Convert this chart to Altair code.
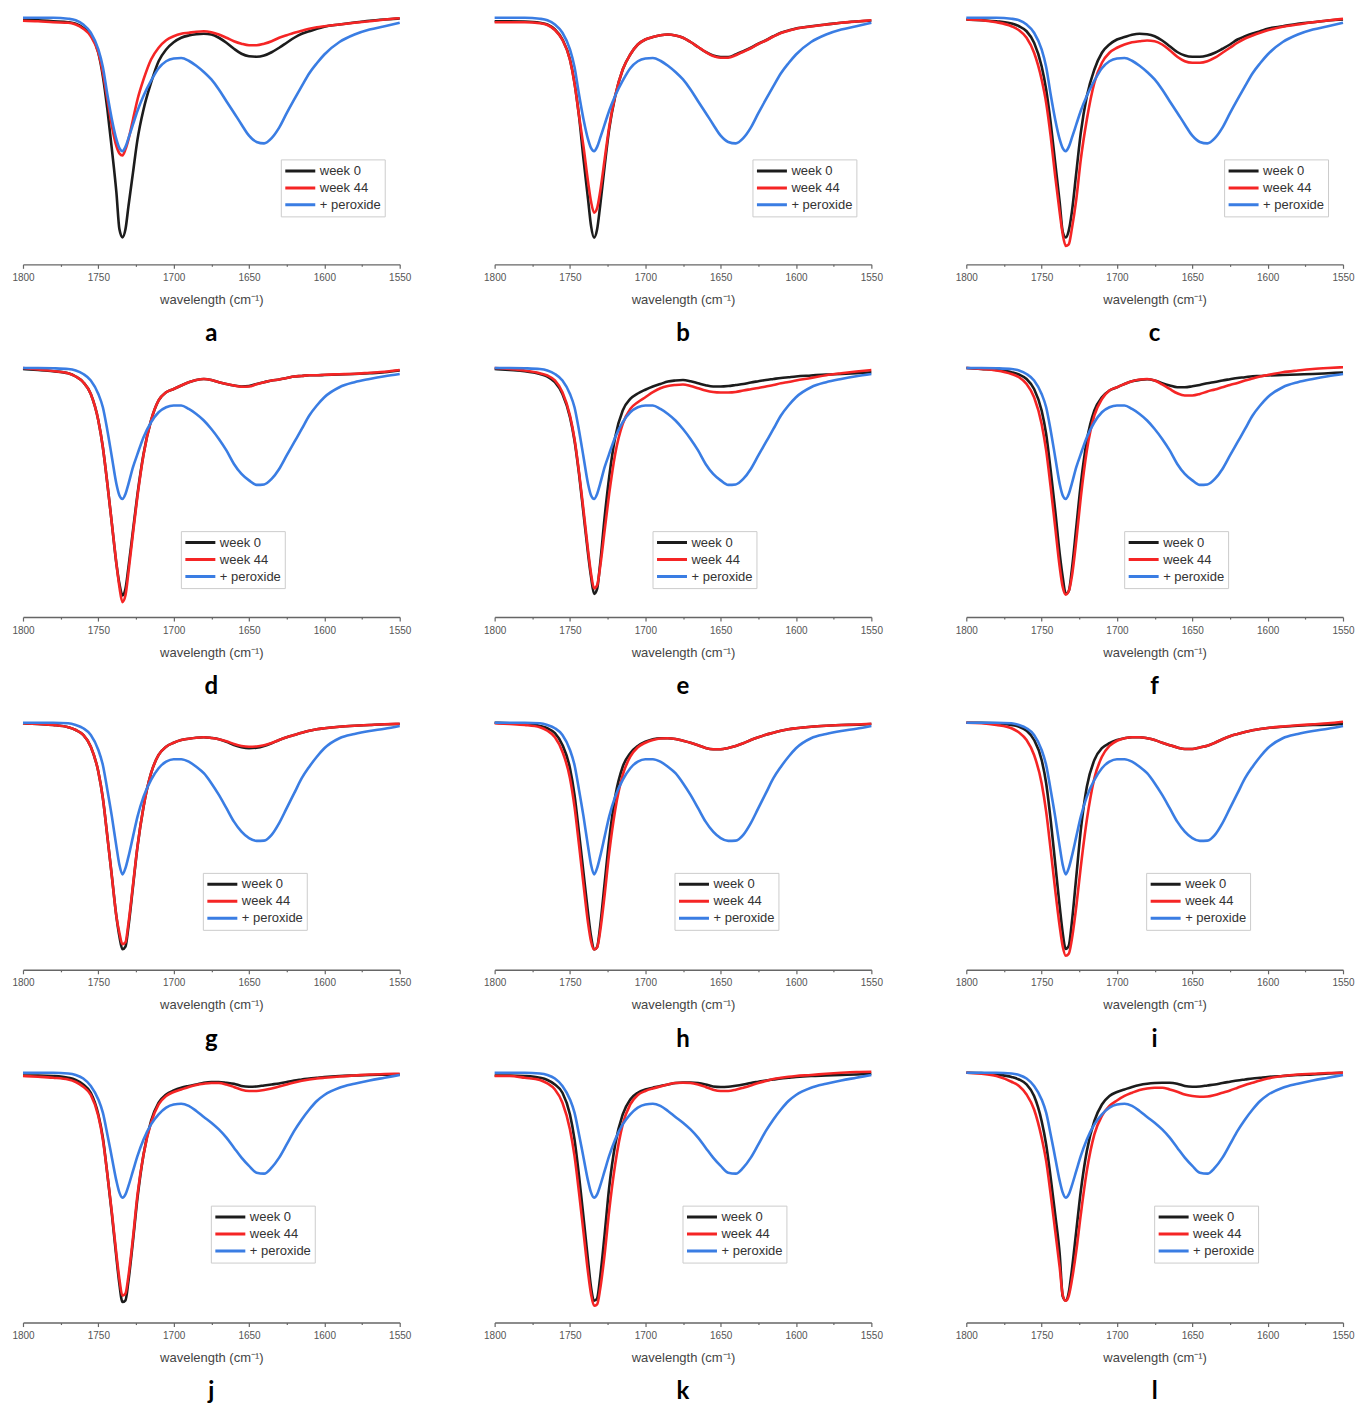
import altair as alt
import pandas as pd

# wavenumber grid (cm^-1)
WN = [1800, 1790, 1780, 1770, 1765, 1760, 1755, 1750, 1747, 1744, 1741, 1738,
      1736, 1734, 1732, 1730, 1727, 1724, 1720, 1715, 1710, 1705, 1700, 1695,
      1690, 1685, 1680, 1675, 1670, 1665, 1660, 1655, 1650, 1645, 1640, 1635,
      1630, 1625, 1620, 1615, 1610, 1605, 1600, 1590, 1580, 1570, 1560, 1550]

SERIES = ["week 0", "week 44", "+ peroxide"]
COLORS = ["#1c1c1c", "#f52525", "#3a7de3"]
LETTERS = ["a", "b", "c", "d", "e", "f", "g", "h", "i", "j", "k", "l"]

# "+ peroxide" spectra (one per row of panels)
BLUE_ROW1 = [98.7, 98.7, 98.7, 98.3, 97.7, 96, 92.7, 86, 79, 68, 58, 50,
             46.5, 45.3, 47, 50.5, 56, 61.5, 67.5, 73.5, 78.5, 81.3, 82.4, 82.6,
             81.5, 79.5, 77, 74, 70, 65.3, 60.7, 56, 51.5, 49, 48.4, 50.5,
             54.7, 60.5, 66, 71.3, 76.5, 80.5, 84, 89, 92, 94, 95.3, 96.7]
BLUE_ROW2 = [99.7, 99.7, 99.6, 99.3, 98.7, 97.3, 94.7, 89.3, 84, 74.7, 64, 53.3,
             48.7, 47.3, 49.3, 53.3, 60, 65.3, 72, 78, 82, 84, 84.7, 84.7,
             83.3, 81.3, 78.7, 75.3, 71.3, 66.7, 61.3, 57.3, 54.7, 52.9, 53.1, 55.3,
             59.3, 64.7, 70, 75.3, 80.7, 84.7, 88, 92, 94, 95.3, 96.4, 97.3]
BLUE_ROW3 = [98.9, 98.9, 98.9, 98.7, 98, 96.7, 94, 88, 82, 72, 61.3, 49.3,
             42, 38.2, 40.7, 45.3, 53.3, 61.3, 69.3, 76, 80.7, 83.3, 84.3, 84.3,
             83.3, 81.3, 78.7, 74.7, 70, 64.7, 59.3, 55.3, 52.7, 51.6, 51.7, 54,
             58.7, 64.7, 70.7, 76.7, 81.3, 85.3, 88.7, 92.7, 94.4, 95.6, 96.5, 97.6]
BLUE_ROW4 = [100, 100, 100, 99.7, 99.1, 97.7, 94.7, 89.3, 84, 75.3, 66, 56.7,
             52, 50, 51.3, 54.7, 60.7, 66.7, 73.3, 79.3, 83.3, 86, 87.3, 87.6,
             86.7, 84.7, 82.3, 80, 77.3, 74, 70, 66, 62.7, 60, 59.6, 62,
             66, 71.3, 76.7, 81.3, 85.3, 88.7, 91.1, 94, 95.6, 96.9, 98, 99.1]

# week 0 spectra
BLACK_A = [97.7, 97.7, 97.3, 96.9, 96.3, 94.7, 92, 84.7, 75.3, 62, 46, 28.7,
           14, 10.8, 14, 23.3, 36.7, 50, 62, 72.7, 81.3, 86, 88.9, 90.7,
           91.6, 92.1, 92.3, 92, 90.7, 88.7, 86.3, 84.3, 83.3, 83.1, 83.6, 84.9,
           86.7, 88.7, 90.7, 92.3, 93.3, 94.3, 95.1, 96, 96.8, 97.5, 98, 98.4]
BLACK_B = [97.3, 97.3, 97.2, 96.7, 96, 94, 90, 82, 72.7, 59.3, 42, 26,
           15.3, 10.7, 14, 23.3, 39.3, 54, 67.3, 78, 84, 88, 90, 91,
           91.7, 92, 91.6, 90.7, 89, 87, 85, 83.6, 83, 83, 84, 85.3,
           86.7, 88.3, 89.7, 91.3, 92.7, 93.6, 94.4, 95.3, 96, 96.7, 97.2, 97.6]
BLACK_C = [98, 97.7, 97.3, 96.4, 95.3, 93.3, 88.7, 79.3, 70, 56.7, 40.7, 24.7,
           13, 10.8, 13.5, 20.7, 36.7, 52.7, 67.3, 78, 84.7, 88, 90, 91,
           91.9, 92.3, 92.1, 91.3, 89.6, 87.3, 85, 83.6, 83.1, 83.1, 83.6, 84.7,
           86.3, 88, 90, 91.3, 92.4, 93.3, 94.3, 95.3, 96.3, 96.9, 97.6, 98]
BLACK_D = [99.3, 98.9, 98.4, 97.6, 96.3, 94, 89.3, 78.7, 68, 53.3, 37.3, 21.3,
           13.3, 8.7, 11.3, 20, 34.7, 49.3, 65.3, 78.7, 86.7, 90, 91.3, 92.7,
           94, 94.9, 95.3, 94.9, 94, 93.3, 92.7, 92.3, 92.5, 93.3, 94, 94.7,
           95.1, 95.7, 96.3, 96.5, 96.8, 96.8, 96.9, 97.1, 97.3, 97.6, 98, 98.7]
BLACK_E = [99.3, 98.9, 98.4, 97.3, 96.3, 94, 89.3, 80, 70.7, 57.3, 41.3, 25.3,
           16, 9.3, 11.3, 21.3, 40, 56, 72, 82.7, 87.3, 89.5, 91, 92.3,
           93.3, 94.3, 94.7, 94.9, 94.4, 93.6, 92.8, 92.3, 92.3, 92.5, 92.9, 93.3,
           93.9, 94.4, 94.9, 95.3, 95.7, 96, 96.3, 96.7, 97.1, 97.3, 97.6, 98]
BLACK_F = [99.7, 99.3, 98.9, 98, 97.1, 95.3, 91.3, 82.7, 73.3, 58.7, 42.7, 25.3,
           16, 9.3, 10.4, 18.7, 36, 53.3, 70.7, 82.7, 88, 90.7, 92, 93.3,
           94.4, 94.9, 95.2, 94.7, 93.6, 92.7, 92, 92, 92.4, 92.9, 93.6, 94.1,
           94.7, 95.2, 95.7, 96, 96.4, 96.5, 96.7, 96.9, 97.1, 97.3, 97.6, 97.9]
BLACK_G = [98.7, 98.4, 98, 97.1, 96, 94, 89.3, 79.3, 68.7, 53.3, 37.3, 21.3,
           13.3, 8.2, 9.3, 17.3, 33.3, 49.3, 65.3, 78.7, 86, 89.3, 90.9, 92,
           92.5, 92.9, 93.1, 92.8, 92.3, 91.3, 90, 89.1, 88.7, 88.9, 89.6, 90.7,
           92, 93.1, 94, 94.9, 95.7, 96.3, 96.7, 97.3, 97.7, 98, 98.3, 98.4]
BLACK_H = [98.9, 98.7, 98.4, 97.6, 96.7, 94.7, 90, 80.7, 70, 54.7, 38.7, 22.7,
           13.3, 8.1, 9.1, 17.3, 34.7, 52, 69.3, 81.3, 86.7, 89.6, 91.3, 92.3,
           92.7, 92.7, 92.4, 91.7, 90.9, 89.9, 88.8, 88.3, 88.3, 88.8, 89.6, 90.7,
           92, 93.1, 94.1, 94.9, 95.7, 96.3, 96.7, 97.3, 97.7, 98, 98.1, 98.4]
BLACK_I = [98.9, 98.9, 98.7, 98, 97.3, 95.7, 92, 84, 74.7, 60, 42.7, 25.3,
           14.7, 8.3, 9.6, 18.7, 37.3, 56, 73.3, 84, 88.7, 90.7, 92, 92.7,
           93.1, 93.1, 92.7, 92, 90.9, 89.9, 89, 88.4, 88.4, 89, 89.7, 90.9,
           92.3, 93.5, 94.4, 95.2, 95.9, 96.4, 96.8, 97.3, 97.7, 98, 98.1, 98.4]
BLACK_J = [98.9, 98.9, 98.7, 98, 97.1, 95.3, 92, 83.3, 74, 59.3, 43.3, 26,
           15.3, 8.2, 8.9, 16.7, 32.7, 50, 67.3, 80.7, 88, 91.3, 92.9, 94,
           94.7, 95.3, 96, 96.3, 96.3, 96, 95.6, 94.7, 94.4, 94.5, 94.9, 95.3,
           95.7, 96.3, 96.9, 97.3, 97.7, 98, 98.3, 98.7, 98.9, 99.1, 99.2, 99.3]
BLACK_K = [98.9, 98.9, 98.7, 98, 97.1, 95.3, 92, 83.3, 73.3, 58.7, 42, 24.7,
           14, 8.7, 9.7, 18, 35.3, 54, 71.3, 83.3, 89.3, 92, 93.3, 94,
           94.7, 95.3, 95.9, 96.1, 96.1, 95.9, 95.3, 94.5, 94.3, 94.4, 94.8, 95.3,
           95.9, 96.4, 96.9, 97.3, 97.7, 98, 98.3, 98.7, 98.9, 99.1, 99.3, 99.6]
BLACK_L = [100, 99.9, 99.3, 98.3, 97.3, 95.3, 90.7, 80.7, 71.3, 58, 43.3, 27.3,
           10.5, 8.8, 12, 20.7, 36.7, 52.7, 68.7, 80.7, 87.3, 90.7, 92.3, 93.3,
           94.3, 95.1, 95.6, 95.9, 96, 96, 95.6, 94.7, 94.4, 94.5, 94.9, 95.3,
           95.9, 96.4, 96.9, 97.3, 97.7, 98, 98.3, 98.7, 99.1, 99.3, 99.7, 100]

# week 44 spectra
RED_A = [97.5, 97.3, 96.9, 96.7, 96, 94.3, 91.3, 84.7, 76.7, 66, 55.3, 47.3,
         44.4, 43.6, 46, 50, 58, 66, 74, 82, 86.7, 89.7, 91.3, 92.3,
         92.7, 93.1, 93.3, 92.9, 92, 90.7, 89.3, 88.3, 87.7, 87.7, 88.3, 89.3,
         90.7, 91.7, 92.7, 93.5, 94.3, 94.9, 95.3, 96, 96.7, 97.3, 98, 98.5]
RED_B = [96.9, 96.9, 96.9, 96.5, 95.8, 93.8, 89.8, 81.8, 72.5, 59.5, 47, 33,
         25, 20.7, 22.5, 29, 42, 55, 67.5, 78, 84, 88, 90, 91,
         91.7, 92, 91.6, 90.7, 89, 87, 85, 83.4, 82.7, 82.7, 83.7, 85.1,
         86.5, 88.2, 89.6, 91.2, 92.6, 93.5, 94.3, 95.2, 96, 96.7, 97.2, 97.7]
RED_C = [98, 97.7, 96.9, 95.3, 93.7, 90.7, 84.7, 74, 64.7, 51.3, 35.3, 20.7,
         12, 7.4, 8, 14, 26, 42, 58, 72.7, 80.7, 84.7, 86.7, 88,
         88.9, 89.3, 89.6, 89.3, 88, 85.7, 83.1, 81.3, 80.7, 80.7, 81.3, 82.7,
         84.7, 86.7, 88.7, 90.4, 91.6, 92.7, 93.7, 95.1, 96, 96.9, 97.6, 98.3]
RED_D = [99.7, 99.1, 98.5, 97.6, 96.3, 94, 89.3, 78.7, 68, 53.3, 37.3, 21.3,
         12, 6, 8.7, 18, 33.5, 48.5, 65, 78.7, 86.7, 90, 91.3, 92.7,
         94, 94.9, 95.3, 94.9, 94, 93.3, 92.7, 92.2, 92.3, 93.2, 94, 94.7,
         95.1, 95.7, 96.3, 96.5, 96.8, 96.8, 97, 97.2, 97.4, 97.8, 98.2, 98.9]
RED_E = [99.7, 99.3, 98.7, 97.6, 96.7, 94.7, 90, 80.7, 71.3, 58, 42.7, 26.7,
         17.3, 11.5, 12.7, 20, 34.7, 49.3, 65.3, 77.3, 83.3, 86, 88, 90,
         91.6, 92.5, 92.9, 93.1, 92.5, 91.6, 90.7, 90.1, 89.9, 89.9, 90.1, 90.7,
         91.2, 91.7, 92.3, 92.9, 93.6, 94.1, 94.7, 95.7, 96.8, 97.6, 98.3, 98.9]
RED_F = [99.7, 99.3, 98.7, 97.3, 96, 93.3, 88, 77.3, 66.7, 52, 36, 20,
         12, 9, 10.4, 16, 30.7, 48, 66.7, 80.7, 87.3, 90.7, 92, 93.3,
         94.4, 95.1, 95.3, 94.7, 93.1, 91.3, 89.6, 88.7, 88.7, 89.3, 90.3, 91.1,
         92, 92.9, 93.7, 94.7, 95.5, 96.3, 96.9, 98, 98.7, 99.3, 99.7, 100]
RED_G = [98.7, 98.4, 98, 97.1, 96, 94, 89.3, 79.3, 68.7, 53.3, 37.3, 21.3,
         14.7, 10.2, 11, 18.7, 34, 49.5, 65.3, 78.7, 86, 89.3, 90.9, 92,
         92.5, 92.9, 93.1, 92.8, 92.3, 91.5, 90.4, 89.6, 89.3, 89.4, 89.9, 90.8,
         92, 93.1, 94, 94.9, 95.7, 96.3, 96.7, 97.3, 97.7, 98, 98.3, 98.5]
RED_H = [98.7, 98.4, 98, 97.1, 95.7, 93.1, 87.3, 76.7, 65.3, 50, 34, 18.7,
         11.3, 8.1, 9, 15.3, 30, 46.7, 64, 78, 85.3, 89.1, 90.9, 92,
         92.6, 92.7, 92.4, 91.7, 90.9, 89.9, 88.8, 88.3, 88.3, 88.8, 89.6, 90.7,
         92, 93.1, 94.1, 94.9, 95.7, 96.3, 96.7, 97.3, 97.7, 98, 98.2, 98.5]
RED_I = [98.9, 98.7, 98, 96.7, 95, 92, 86, 74.7, 63.3, 48, 32, 17.3,
         9.3, 5.6, 6.4, 12, 25.3, 41.3, 60, 76.7, 85.3, 89.6, 91.7, 92.7,
         93.1, 93.1, 92.7, 92, 90.9, 89.9, 89, 88.4, 88.4, 89, 89.7, 90.9,
         92.3, 93.5, 94.4, 95.2, 95.9, 96.4, 96.8, 97.4, 97.9, 98.3, 98.7, 99.3]
RED_J = [98.7, 98.4, 98, 97.3, 96.3, 94.4, 91.1, 82.7, 73.3, 59.3, 44, 27.3,
         17.3, 10.7, 11.6, 18.7, 34, 51.3, 67.3, 80, 87.3, 90.7, 92.3, 93.3,
         94.3, 95.1, 95.6, 95.9, 95.9, 95.3, 94.3, 93.2, 92.7, 92.7, 93.1, 93.7,
         94.5, 95.3, 96.1, 96.8, 97.3, 97.7, 98, 98.5, 98.9, 99.3, 99.5, 99.6]
RED_K = [98.7, 98.7, 98, 97.1, 95.7, 93.3, 88, 77.3, 66.7, 52, 36, 20,
         11.3, 6.7, 7.3, 13.3, 27.3, 44.7, 63.3, 79.3, 87.3, 91.1, 92.7, 93.7,
         94.5, 95.3, 95.9, 96, 95.9, 95.3, 94.3, 93.2, 92.7, 92.7, 93.2, 94,
         94.9, 95.9, 96.7, 97.5, 98, 98.4, 98.7, 99.1, 99.6, 100, 100.3, 100.4]
RED_L = [100, 99.6, 98.7, 96.4, 94.7, 91.3, 85.3, 74, 64.7, 51.3, 36.7, 22,
         11, 8.7, 10.7, 16.7, 28.7, 43.3, 60.7, 75.3, 82.7, 86.7, 88.9, 90.7,
         92, 93.1, 93.7, 94, 94, 93.3, 92.4, 91.3, 90.7, 90.4, 90.5, 91.1,
         92, 92.9, 94, 95.1, 96, 96.9, 97.7, 98.7, 99.3, 99.6, 99.9, 100]

BLACKS = [BLACK_A, BLACK_B, BLACK_C, BLACK_D, BLACK_E, BLACK_F,
          BLACK_G, BLACK_H, BLACK_I, BLACK_J, BLACK_K, BLACK_L]
REDS = [RED_A, RED_B, RED_C, RED_D, RED_E, RED_F,
        RED_G, RED_H, RED_I, RED_J, RED_K, RED_L]
BLUES = [BLUE_ROW1] * 3 + [BLUE_ROW2] * 3 + [BLUE_ROW3] * 3 + [BLUE_ROW4] * 3

# legend box position inside each row of panels (pixels, layout only)
LEGEND_XY = [(258, 145), (158, 164), (180, 153), (188, 133)]

W, H = 377, 250
TICKS = list(range(1800, 1549, -25))
FONT = "Liberation Sans"


def panel(idx):
    rows = []
    for name, vals in zip(SERIES, [BLACKS[idx], REDS[idx], BLUES[idx]]):
        for w, v in zip(WN, vals):
            rows.append({"wn": w, "v": v, "series": name})
    df = pd.DataFrame(rows)
    lx, ly = LEGEND_XY[idx // 3]

    x = alt.X(
        "wn:Q",
        title="wavelength (cm\u207b\u00b9)",
        scale=alt.Scale(domain=[1800, 1550], nice=False, zero=False),
        axis=alt.Axis(
            values=TICKS,
            format="d",
            labelExpr="datum.value % 50 === 0 ? datum.label : ''",
            tickSize={"condition": {"test": "datum.value % 50 === 0", "value": 4}, "value": 2},
            grid=False,
            domainColor="#666666",
            domainWidth=1.4,
            tickColor="#666666",
            tickWidth=1.2,
            labelFont=FONT,
            labelFontSize=10,
            labelColor="#555555",
            labelPadding=4,
            labelFlush=False,
            labelOverlap=False,
            titleFont=FONT,
            titleFontSize=13,
            titleFontWeight="normal",
            titleColor="#444444",
            titlePadding=11,
        ),
    )
    y = alt.Y("v:Q", scale=alt.Scale(domain=[0, 100], nice=False, zero=False), axis=None)
    color = alt.Color(
        "series:N",
        scale=alt.Scale(domain=SERIES, range=COLORS),
        legend=alt.Legend(
            orient="none",
            legendX=lx,
            legendY=ly,
            title=None,
            symbolType="stroke",
            symbolSize=900,
            symbolStrokeWidth=3,
            clipHeight=17,
            labelFont=FONT,
            labelFontSize=13,
            labelColor="#333333",
            labelOffset=3,
            padding=3,
            rowPadding=0,
            strokeColor="#cccccc",
            fillColor="white",
            labelLimit=200,
        ),
    )
    layers = []
    for name in SERIES:
        layers.append(
            alt.Chart(df)
            .transform_filter(alt.datum.series == name)
            .mark_line(interpolate="monotone", strokeWidth=2.6)
            .encode(x=x, y=y, color=color)
        )
    return alt.layer(*layers).properties(
        width=W,
        height=H,
        title=alt.TitleParams(
            LETTERS[idx],
            orient="bottom",
            anchor="middle",
            frame="group",
            font="Lato",
            fontSize=24,
            fontWeight="bold",
            color="#000000",
            offset=16,
        ),
    )


chart = (
    alt.concat(*[panel(i) for i in range(12)], columns=3,
               spacing={"row": 103, "column": 95}, bounds="flush")
    .resolve_scale(color="independent")
    .resolve_legend(color="independent")
    .properties(padding={"left": 3, "top": 4, "right": 0, "bottom": 0}, background="white")
    .configure_view(stroke=None)
)

chart.save("out.html", embed_options={"renderer": "svg", "actions": False})
